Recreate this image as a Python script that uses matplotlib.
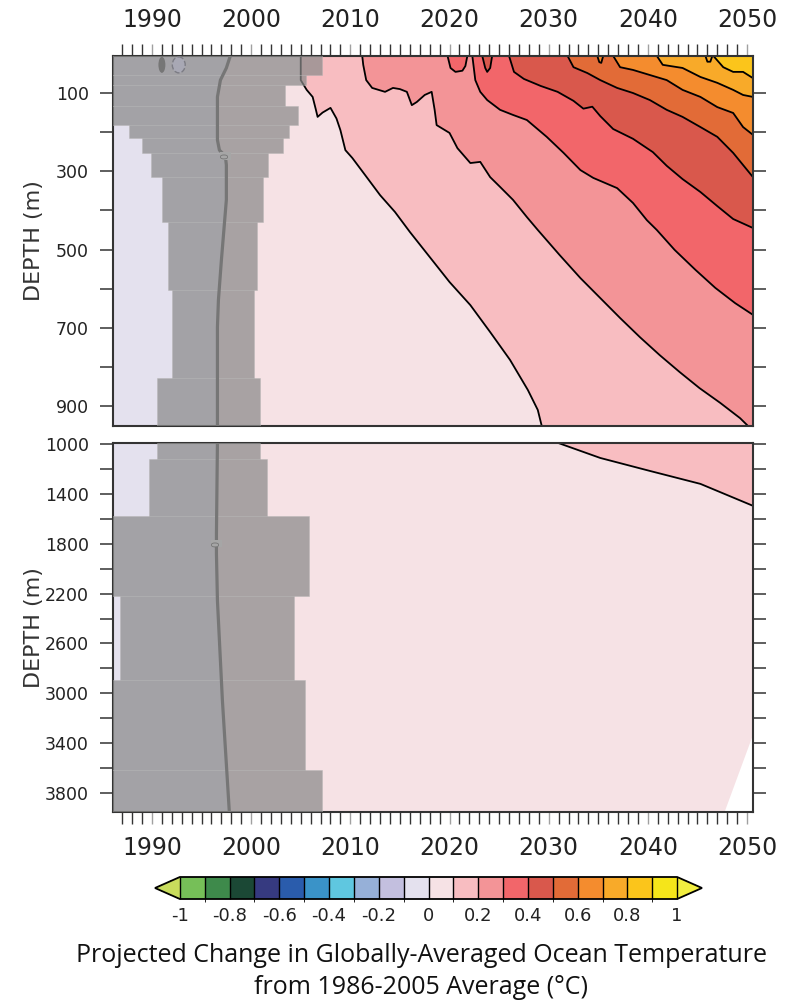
import numpy as np
import matplotlib.pyplot as plt
from matplotlib.colors import ListedColormap, BoundaryNorm
from matplotlib.cm import ScalarMappable
from matplotlib.patches import Ellipse

plt.rcParams['font.family'] = ['DejaVu Sans']

# colour scale
levels = np.round(np.arange(-1.0, 1.01, 0.1), 1)
band_colors = ['#76bf58', '#3e8a4b', '#1b4835', '#363a80', '#2a5cac',
               '#3a93c8', '#5fc7e0', '#96b0d8', '#c3bfdf', '#e4e1ee',
               '#f6e2e5', '#f8bdc1', '#f39497', '#f2666a', '#d9584c',
               '#e26b37', '#f48c2e', '#f8aa29', '#fbc51b', '#f5e51a']
under_color = '#c8dc5c'
over_color = '#f2ee40'
cbar_ticks = [-1, -0.8, -0.6, -0.4, -0.2, 0, 0.2, 0.4, 0.6, 0.8, 1]
cbar_labels = ['-1', '-0.8', '-0.6', '-0.4', '-0.2', '0', '0.2', '0.4', '0.6', '0.8', '1']

year_ticks = [1990, 2000, 2010, 2020, 2030, 2040, 2050]
x_lo, x_hi = 1986.07, 2050.6
top_depth_lim = (951, 5.4)
bot_depth_lim = (3952, 992)
top_labels = [100, 300, 500, 700, 900]
top_minor = [200, 400, 600, 800]
bot_labels = [1000, 1400, 1800, 2200, 2600, 3000, 3400, 3800]
bot_minor = [1200, 1600, 2000, 2400, 2800, 3200, 3600]

# zero contour (grey line)
zero_top_years = [1997.9, 1997.5, 1996.9, 1996.6, 1996.6, 1996.8, 1997.4, 1997.5, 1997.5, 1997.0, 1996.7, 1996.6, 1996.6]
zero_top_depths = [5, 36, 67, 110, 220, 246, 261, 284, 373, 527, 629, 698, 951]
zero_bot_years = [1996.6, 1996.5, 1996.5, 1996.6, 1997.1, 1997.8]
zero_bot_depths = [992, 1720, 1880, 2256, 3056, 3952]
zero_label_years = [1997.4, 1996.5]
zero_label_depths = [261, 1800]

# warming contours, upper panel
c01_years = [2005.0, 2005.0, 2005.6, 2006.2, 2006.5, 2006.7, 2007.2, 2008.0, 2008.6, 2009.0, 2009.5,
             2010.2, 2011.5, 2013.0, 2014.5, 2016.0, 2018.0, 2020.0, 2022.1, 2024.1, 2026.1,
             2027.9, 2028.9, 2029.3]
c01_depths = [5, 67, 92, 110, 140, 161, 150, 138, 165, 195, 246,
              266, 310, 361, 404, 455, 519, 583, 642, 711, 782,
              859, 910, 951]
c02_years = [2011.2, 2011.3, 2011.6, 2012.2, 2013.5, 2014.3, 2015.0, 2015.7, 2016.2, 2016.7,
             2017.5, 2018.2, 2018.5, 2018.7, 2020.0, 2020.8, 2022.1, 2023.1, 2024.1, 2025.1,
             2026.4, 2027.8, 2028.9, 2031.1, 2033.2, 2035.2, 2037.2, 2039.2, 2041.2, 2043.2,
             2045.2, 2047.3, 2049.3, 2050.1]
c02_depths = [5, 28, 67, 87, 97, 87, 90, 97, 131, 123,
              105, 97, 143, 182, 202, 241, 279, 276, 315, 340,
              373, 417, 450, 514, 573, 624, 675, 724, 770, 813,
              854, 892, 931, 951]
c03_years = [2022.3, 2022.6, 2023.1, 2023.8, 2025.1, 2026.4, 2027.8, 2029.8, 2031.5, 2033.2,
             2034.5, 2036.9, 2038.5, 2039.9, 2040.9, 2042.7, 2044.8, 2046.8, 2048.8, 2050.6]
c03_depths = [5, 67, 97, 118, 143, 156, 169, 212, 253, 297,
              317, 343, 381, 425, 450, 501, 552, 598, 637, 667]
c04_years = [2026.0, 2026.5, 2027.5, 2029.2, 2030.9, 2032.5, 2033.5, 2034.4, 2035.2, 2036.5,
             2038.5, 2040.5, 2041.9, 2043.5, 2045.3, 2047.0, 2048.6, 2050.6]
c04_depths = [5, 46, 64, 82, 97, 120, 140, 135, 159, 192,
              217, 251, 286, 320, 353, 389, 422, 445]
c05_years = [2031.9, 2032.5, 2033.9, 2035.2, 2036.9, 2038.5, 2040.2, 2041.9, 2043.5, 2045.3,
             2047.0, 2048.6, 2050.6]
c05_depths = [5, 34, 49, 67, 87, 100, 118, 143, 161, 187, 212, 253, 315]
c06_years = [2036.5, 2037.2, 2038.5, 2040.2, 2041.9, 2043.5, 2045.3, 2047.0, 2048.6, 2049.6, 2050.6]
c06_depths = [5, 34, 41, 54, 67, 92, 110, 136, 151, 187, 207]
c07_years = [2040.9, 2041.5, 2043.5, 2045.3, 2047.0, 2048.6, 2049.6, 2050.6]
c07_depths = [5, 28, 36, 59, 74, 92, 105, 110]
c08_years = [2046.6, 2047.6, 2048.6, 2049.6, 2050.6]
c08_depths = [5, 34, 46, 46, 62]

# small closed patches touching the surface
b03_years = [2019.8, 2020.1, 2020.6, 2021.3, 2021.6, 2021.8]
b03_depths = [5, 36, 46, 43, 31, 5]
b04_years = [2023.3, 2023.6, 2023.8, 2024.1, 2024.3]
b04_depths = [5, 36, 46, 36, 5]
b06_years = [2034.9, 2035.1, 2035.3, 2035.5]
b06_depths = [5, 21, 23, 5]
b07_years = [2045.8, 2046.0, 2046.3, 2046.5]
b07_depths = [5, 20, 20, 5]

# warming contour, lower panel
d01_years = [2030.9, 2035.2, 2040.2, 2045.3, 2050.6]
d01_depths = [990, 1112, 1216, 1320, 1496]

# no-data corner, lower panel
nodata_years = [2047.7, 2050.7, 2050.7]
nodata_depths = [3960, 3312, 3960]

# grey band (reference period), layer edges and year span
gray_top_edges = [0, 54, 80, 133, 182, 215, 253, 315, 430, 604, 828, 960]
gray_top_left = [1986, 1986, 1986, 1986, 1987.7, 1989.0, 1989.9, 1991.0, 1991.6, 1992.0, 1990.5]
gray_top_right = [2007.1, 2005.5, 2003.4, 2004.7, 2003.8, 2003.2, 2001.7, 2001.2, 2000.6, 2000.3, 2000.9]
gray_bot_edges = [990, 1120, 1576, 2216, 2896, 3616, 3960]
gray_bot_left = [1990.5, 1989.7, 1986, 1986.8, 1986, 1986]
gray_bot_right = [2000.9, 2001.6, 2005.8, 2004.3, 2005.4, 2007.1]

# small surface blobs near 1991-1993
blob_years = [1991.0, 1992.7]
blob_depths = [28, 28]
blob_widths = [0.7, 1.3]
blob_heights = [41, 41]


def band(level):
    return band_colors[int(round((level + 1) / 0.1))]


def fill_right(ax, years, depths, color, y_top):
    xs = list(years) + [x_hi + 2, x_hi + 2]
    ys = list(depths) + [depths[-1], y_top]
    ax.fill(xs, ys, color=color, lw=0, zorder=1)


def fill_left(ax, years, depths, color):
    xs = list(years) + [x_lo - 2, x_lo - 2]
    ys = list(depths) + [depths[-1], depths[0]]
    ax.fill(xs, ys, color=color, lw=0, zorder=1)


def gray_band(ax, edges, left, right):
    edges = np.array(edges, dtype=float)
    centers = (edges[:-1] + edges[1:]) / 2
    heights = edges[1:] - edges[:-1]
    widths = np.array(right) - np.array(left)
    ax.barh(centers, widths, left=left, height=heights, color='#8a8a8a',
            alpha=0.72, edgecolor='#b4b4b4', linewidth=0.4, zorder=3)


fig = plt.figure(figsize=(7.85, 10.06), dpi=100)
ax1 = fig.add_axes([113 / 785, 1 - 426 / 1006, 640 / 785, 370 / 1006])
ax2 = fig.add_axes([113 / 785, 1 - 812 / 1006, 640 / 785, 369 / 1006])

# upper panel
fill_left(ax1, zero_top_years, zero_top_depths, band(-0.1))
fill_right(ax1, zero_top_years, zero_top_depths, band(0.0), 0)
top_contours = [(0.1, c01_years, c01_depths), (0.2, c02_years, c02_depths),
                (0.3, c03_years, c03_depths), (0.4, c04_years, c04_depths),
                (0.5, c05_years, c05_depths), (0.6, c06_years, c06_depths),
                (0.7, c07_years, c07_depths), (0.8, c08_years, c08_depths)]
for lev, ys, ds in top_contours:
    fill_right(ax1, ys, ds, band(lev), 0)
    ax1.plot(ys, ds, color='black', lw=1.3, zorder=2, solid_joinstyle='round')
for lev, ys, ds in [(0.3, b03_years, b03_depths), (0.4, b04_years, b04_depths),
                    (0.6, b06_years, b06_depths), (0.7, b07_years, b07_depths)]:
    ax1.fill(ys, ds, color=band(lev), lw=0, zorder=1)
    ax1.plot(ys, ds, color='black', lw=1.3, zorder=2, solid_joinstyle='round')
gray_band(ax1, gray_top_edges, gray_top_left, gray_top_right)
ax1.plot(zero_top_years, zero_top_depths, color='#767676', lw=2.3, zorder=4)
ax1.add_patch(Ellipse((blob_years[0], blob_depths[0]), blob_widths[0], blob_heights[0],
                      facecolor='#767676', edgecolor='none', zorder=5))
ax1.add_patch(Ellipse((blob_years[1], blob_depths[1]), blob_widths[1], blob_heights[1],
                      facecolor='#a8a8b4', edgecolor='#7c7c84', ls='--', lw=1.0, zorder=5))

# lower panel
fill_left(ax2, zero_bot_years, zero_bot_depths, band(-0.1))
fill_right(ax2, zero_bot_years, zero_bot_depths, band(0.0), 980)
fill_right(ax2, d01_years, d01_depths, band(0.1), 980)
ax2.plot(d01_years, d01_depths, color='black', lw=1.3, zorder=2)
ax2.fill(nodata_years, nodata_depths, color='white', lw=0, zorder=2)
gray_band(ax2, gray_bot_edges, gray_bot_left, gray_bot_right)
ax2.plot(zero_bot_years, zero_bot_depths, color='#767676', lw=2.3, zorder=4)

for ax, yl, yd in [(ax1, zero_label_years[0], zero_label_depths[0]),
                   (ax2, zero_label_years[1], zero_label_depths[1])]:
    ax.text(yl, yd, '0', rotation=90, fontsize=7, color='#767676', ha='center', va='center',
            zorder=6, bbox=dict(boxstyle='square,pad=0.05', fc='#a6a6a6', ec='none'))

for ax, lim, lab, mnr in [(ax1, top_depth_lim, top_labels, top_minor),
                          (ax2, bot_depth_lim, bot_labels, bot_minor)]:
    ax.set_xlim(x_lo, x_hi)
    ax.set_ylim(*lim)
    ax.set_xticks(year_ticks)
    ax.set_xticks(np.arange(1987, 2051), minor=True)
    ax.set_yticks(lab)
    ax.set_yticks(mnr, minor=True)
    ax.tick_params(axis='y', which='both', left=True, right=True, direction='out',
                   length=9.5, width=1.1, color='#333333', labelsize=12.5, pad=8,
                   labelcolor='#222222')
    ax.tick_params(axis='x', which='both', direction='out', length=8.5, width=1.0,
                   color='#333333', labelsize=17, pad=9, labelcolor='#222222')
    ax.tick_params(axis='x', which='major', color='#a0a0a0')
    for sp in ax.spines.values():
        sp.set_linewidth(1.5)
        sp.set_color('#333333')
    ax.set_ylabel('DEPTH (m)', fontsize=16, color='#333333')
    ax.yaxis.set_label_coords(-0.108, 0.5)

ax1.tick_params(axis='x', which='both', top=True, bottom=False, labeltop=True, labelbottom=False)
ax2.tick_params(axis='x', which='both', top=False, bottom=True, labeltop=False, labelbottom=True)

# colour bar
cax = fig.add_axes([155 / 785, 1 - 899 / 1006, 547 / 785, 22 / 1006])
cmap = ListedColormap(band_colors)
cmap.set_under(under_color)
cmap.set_over(over_color)
norm = BoundaryNorm(levels, cmap.N)
cb = fig.colorbar(ScalarMappable(norm=norm, cmap=cmap), cax=cax, orientation='horizontal',
                  extend='both', drawedges=True, ticks=cbar_ticks)
cb.set_ticklabels(cbar_labels)
cb.ax.tick_params(length=0, labelsize=13, pad=6, labelcolor='#222222')
cb.outline.set_linewidth(1.3)
cb.dividers.set_linewidth(1.0)

fig.text(421 / 785, 1 - 955 / 1006, 'Projected Change in Globally-Averaged Ocean Temperature',
         ha='center', va='center', fontsize=18, family=['Open Sans', 'DejaVu Sans'], color='#111111')
fig.text(421 / 785, 1 - 988 / 1006, 'from 1986-2005 Average (°C)',
         ha='center', va='center', fontsize=18, family=['Open Sans', 'DejaVu Sans'], color='#111111')

fig.savefig('out.png', dpi=100)
